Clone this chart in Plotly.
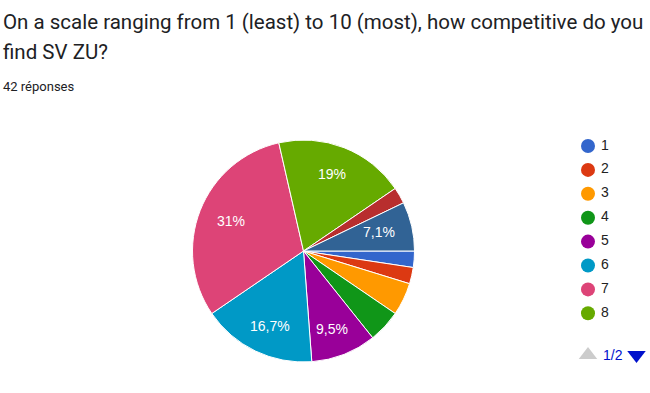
import math
import plotly.graph_objects as go

categories = ["1", "2", "3", "4", "5", "6", "7", "8", "9", "10"]
counts = [1, 1, 2, 2, 4, 7, 13, 8, 1, 3]
colors = ["#3366cc", "#dc3912", "#ff9900", "#109618", "#990099",
          "#0099c6", "#dd4477", "#66aa00", "#b82e2e", "#316395"]
legend_shown = categories[:8]
title_line1 = "On a scale ranging from 1 (least) to 10 (most), how competitive do you"
title_line2 = "find SV ZU?"
subtitle_text = "42 réponses"
page_text = "1/2"

W, H = 650, 393
total = sum(counts)


def fmt(v):
    p = round(v / total * 100, 1)
    if p < 5:
        return ""
    s = ("%.1f" % p).rstrip("0").rstrip(".")
    return s.replace(".", ",") + "%"


labels_txt = [fmt(v) for v in counts]

fig = go.Figure()

# pie (pixel coords)
cx, cy, r = 303.5, 251, 111
fig.add_trace(go.Pie(
    labels=categories, values=counts, textinfo="none",
    marker=dict(colors=colors, line=dict(color="white", width=1)),
    sort=False, direction="clockwise", rotation=90,
    domain=dict(x=[(cx - r) / W, (cx + r) / W], y=[1 - (cy + r) / H, 1 - (cy - r) / H]),
    showlegend=False, hoverinfo="label+percent",
))

annotations = []
# slice labels at mid angle
cum = 0
for v, t in zip(counts, labels_txt):
    mid = (cum + v / 2) / total * 2 * math.pi
    cum += v
    if not t:
        continue
    annotations.append(dict(
        x=cx + 0.70 * r * math.cos(mid), y=cy + 0.75 * r * math.sin(mid),
        text=t, showarrow=False, xanchor="center", yanchor="middle",
        font=dict(family="Arial, Liberation Sans", size=14, color="white")))

# legend drawn as scatter on pixel axes
lx, ly0, dy = 588, 146, 23.9
ys = [ly0 + i * dy for i in range(len(legend_shown))]
fig.add_trace(go.Scatter(
    x=[lx] * len(legend_shown), y=ys, mode="markers",
    marker=dict(size=14, color=colors[:len(legend_shown)]),
    showlegend=False, hoverinfo="skip", cliponaxis=False,
))
fig.add_trace(go.Scatter(
    x=[lx + 13] * len(legend_shown), y=ys, mode="text",
    text=legend_shown, textposition="middle right",
    textfont=dict(family="Arial, Liberation Sans", size=14, color="#222222"),
    showlegend=False, hoverinfo="skip", cliponaxis=False,
))
# pagination arrows
fig.add_trace(go.Scatter(
    x=[588, 636.5], y=[355, 355], mode="markers",
    marker=dict(symbol=["triangle-up", "triangle-down"], size=16,
                color=["#cccccc", "#0011cc"]),
    showlegend=False, hoverinfo="skip", cliponaxis=False,
))

annotations += [
    dict(x=1, y=22, text=title_line1, xanchor="left", yanchor="middle",
         showarrow=False, font=dict(family="Roboto", size=20.5, color="#202124")),
    dict(x=1, y=52, text=title_line2, xanchor="left", yanchor="middle",
         showarrow=False, font=dict(family="Roboto", size=20.5, color="#202124")),
    dict(x=1, y=86, text=subtitle_text, xanchor="left", yanchor="middle",
         showarrow=False, font=dict(family="Roboto", size=13, color="#202124")),
    dict(x=612.5, y=355, text=page_text, xanchor="center", yanchor="middle",
         showarrow=False, font=dict(family="Arial, Liberation Sans", size=14, color="#0011cc")),
]

fig.update_layout(
    width=W, height=H, margin=dict(l=0, r=0, t=0, b=0),
    paper_bgcolor="white", plot_bgcolor="white",
    xaxis=dict(range=[0, W], domain=[0, 1], visible=False, fixedrange=True),
    yaxis=dict(range=[H, 0], domain=[0, 1], visible=False, fixedrange=True),
    annotations=annotations,
)

fig.write_html("out.html", config={"displayModeBar": False},
               post_script="document.body.style.margin='0px';")
